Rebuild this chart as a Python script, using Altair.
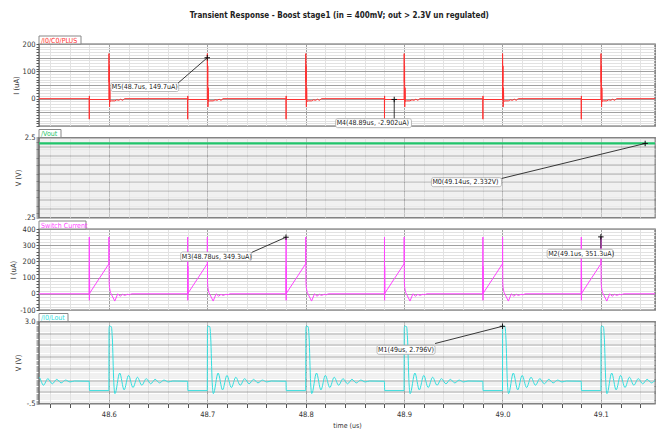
import altair as alt
import pandas as pd

FONT = "DejaVu Sans Condensed, DejaVu Sans, sans-serif"
TITLE = "Transient Response - Boost stage1 (in = 400mV; out > 2.3V un regulated)"
X0, X1 = 48.529, 49.155

# switch turn-on instants (us); each switching cycle lasts 0.1 us
cycle_on = [48.48, 48.58, 48.68, 48.78, 48.88, 48.98, 49.08]

# /I0/C0/PLUS : one cycle, offsets from turn-on (us) and current (uA)
ic_off = [0.0, 0.0001, 0.0002, 0.0003, 0.0200, 0.0201, 0.0203, 0.0205, 0.0207,
          0.0210, 0.0213, 0.0225, 0.0260, 0.0280, 0.0300, 0.0320, 0.0340, 0.0360, 0.0999]
ic_val = [0, -75, 10, -3, -3, 165, 60, 120, -30, 40, -10, -8, -8, -4, -6, -2, -6, 0, 0]

# /Vout (V)
vout_t = [48.50, 49.20]
vout_v = [2.332, 2.332]

# Switch Current : one cycle, offsets from turn-on (us) and current (uA)
sw_off = [0.0, 0.0001, 0.0002, 0.0003, 0.0005, 0.0006, 0.0200, 0.0201, 0.0203, 0.0206,
          0.0215, 0.0260, 0.0290, 0.0315, 0.0340, 0.0360, 0.0390, 0.0410, 0.0430, 0.0999]
sw_val = [0, 350, -40, 170, 0, 5, 185, 350, 70, 40, 10, -45, 0, -15, -3, -10, -3, -6, 0, 0]

# /I0/Lout : one cycle, offsets from turn-on (us) and voltage (V)
lo_off = [0.0, 0.0003, 0.0200, 0.0202, 0.0206, 0.0225, 0.0235, 0.0250, 0.0262, 0.0310,
          0.0355, 0.0400, 0.0445, 0.0490, 0.0535, 0.0580, 0.0625, 0.0670, 0.0715, 0.0760,
          0.0805, 0.0850, 0.0999]
lo_val = [0.45, 0.05, 0.05, 2.7, 2.8, 2.78, 2.3, 0.4, -0.08, 0.80, 0.08, 0.70, 0.18, 0.62,
          0.28, 0.56, 0.34, 0.53, 0.38, 0.50, 0.42, 0.46, 0.45]

# markers
m_panel = [1, 1, 2, 3, 3, 4]
m_t = [48.7, 48.89, 49.145, 48.78, 49.1, 49.0]
m_v = [149.7, -2.902, 2.332, 349.3, 351.3, 2.796]
m_text = ["M5(48.7us, 149.7uA)", "M4(48.89us, -2.902uA)", "M0(49.14us, 2.332V)",
          "M3(48.78us, 349.3uA)", "M2(49.1us, 351.3uA)", "M1(49us, 2.796V)"]
lab_t0 = [48.602, 48.8305, 48.9278, 48.673, 49.0454, 48.8725]
lab_t1 = [48.671, 48.9075, 48.999, 48.745, 49.1125, 48.9315]
lab_v = [42.6, -89.6, 1.243, 230, 247, 1.79]
lead_t = [48.670, 48.89, 48.999, 48.745, 49.1, 48.9315]
lead_v = [56, -76, 1.347, 255, 280, 2.06]


def cycles(offsets, values):
    rows = []
    for t0 in cycle_on:
        for o, v in zip(offsets, values):
            rows.append({"t": round(t0 + o, 5), "v": v})
    return pd.DataFrame(rows)


def frange(a, b, step):
    n = int(round((b - a) / step))
    return [round(a + i * step, 6) for i in range(n + 1)]


xs = alt.Scale(domain=[X0, X1], nice=False, zero=False)
x_ticks = frange(48.54, 49.14, 0.02)


def gcol(step):
    return {"condition": {"test": f"abs(datum.value/{step} - round(datum.value/{step})) < 0.001",
                          "value": "#a0a0a0"}, "value": "#e2e2e2"}


def label_expr(labels):
    expr = "''"
    for val, txt in reversed(labels):
        expr = f"abs(datum.value - ({val})) < 1e-6 ? '{txt}' : ({expr})"
    return expr


def panel(df, color, ydom, major, minor_vals, labels, ytitle, tab, tabw, height, idx,
          last=False, sw=1.0, interp="linear"):
    ys = alt.Scale(domain=ydom, nice=False, zero=False)
    if last:
        xaxis = alt.Axis(values=x_ticks, title="time (us)", grid=True, gridColor=gcol(0.1),
                         labelExpr="abs(datum.value*10 - round(datum.value*10)) < 0.001 ? format(datum.value, '.1f') : ''",
                         tickSize=4, tickColor="#555", domain=False, labelPadding=3,
                         labelFontSize=7.5, labelColor="#333", titleFontSize=7,
                         titleFontWeight="normal", titlePadding=3, titleColor="#333",
                         labelOverlap=False, labelFlush=False)
    else:
        xaxis = alt.Axis(values=x_ticks, title=None, grid=True, gridColor=gcol(0.1),
                         labels=False, ticks=False, domain=False)
    yaxis = alt.Axis(values=minor_vals, title=ytitle, grid=True, gridColor=gcol(major),
                     labelExpr=label_expr(labels), tickSize=3, tickColor="#555",
                     domain=False, labelFontSize=7.5, labelColor="#333", labelPadding=1,
                     titleFontSize=7.5, titleFontWeight="normal", titleColor="#333",
                     titlePadding=2, labelOverlap=False, labelFlush=False)
    X = lambda f: alt.X(f, scale=xs, axis=xaxis)
    Y = lambda f: alt.Y(f, scale=ys, axis=yaxis)
    line = alt.Chart(df).mark_line(color=color, strokeWidth=sw, clip=True,
                                   interpolate=interp).encode(x=X("t:Q"), y=Y("v:Q"))
    ann = pd.DataFrame({"p": m_panel, "t": m_t, "v": m_v, "txt": m_text, "l0": lab_t0,
                        "l1": lab_t1, "lv": lab_v, "et": lead_t, "ev": lead_v})
    ann = ann[ann.p == idx]
    lead = alt.Chart(ann).mark_rule(color="#222", strokeWidth=0.9).encode(
        x=X("t:Q"), y=Y("v:Q"), x2="et:Q", y2="ev:Q")
    mk = alt.Chart(ann).mark_point(shape="M-1,0H1M0,-1V1", size=30, filled=False,
                                   color="#111", strokeWidth=1, opacity=1).encode(
        x=X("t:Q"), y=Y("v:Q"))
    box = alt.Chart(ann).mark_rect(height=9, fill="white", stroke="#aaa", strokeWidth=0.8,
                                   cornerRadius=2).encode(
        x=X("l0:Q"), x2="l1:Q", y=Y("lv:Q"))
    txt = alt.Chart(ann).mark_text(align="left", baseline="middle", dx=1, font=FONT,
                                   fontSize=7, color="#222").encode(
        x=X("l0:Q"), y=Y("lv:Q"), text="txt:N")
    tab_bg = alt.Chart(pd.DataFrame({"s": [tab]})).mark_rect(
        fill="white", stroke="#888", strokeWidth=1).encode(
        x=alt.value(0), x2=alt.value(tabw), y=alt.value(-8), y2=alt.value(0))
    tab_tx = alt.Chart(pd.DataFrame({"s": [tab]})).mark_text(
        align="left", baseline="bottom", font=FONT, fontSize=7, color=color, dy=-0.5).encode(
        x=alt.value(2), y=alt.value(0), text="s:N")
    return alt.layer(line, lead, box, txt, mk, tab_bg, tab_tx).properties(
        width=616, height=height)


p1 = panel(cycles(ic_off, ic_val), "#ff3030", [-100, 200], 50, frange(-100, 200, 10),
           [(200, "200"), (100, "100"), (0, "0")], "I (uA)", "/I0/C0/PLUS", 42, 82, 1)
p2 = panel(pd.DataFrame({"t": vout_t, "v": vout_v}), "#1fc46a", [0.25, 2.5], 0.25,
           frange(0.25, 2.5, 0.05), [(2.5, "2.5"), (0.25, ".25")], "V (V)", "/Vout", 22,
           80, 2, sw=2.2)
p3 = panel(cycles(sw_off, sw_val), "#ff44ff", [-100, 400], 100, frange(-100, 400, 20),
           [(400, "400"), (300, "300"), (200, "200"), (100, "100"), (0, "0"), (-100, "-100")],
           "I (uA)", "Switch Current", 47, 81, 3)
p4 = panel(cycles(lo_off, lo_val), "#33dede", [-0.5, 3.0], 0.5, frange(-0.5, 3.0, 0.1),
           [(3.0, "3.0"), (-0.5, "-.5")], "V (V)", "/I0/Lout", 29, 82, 4, last=True,
           interp="monotone")

chart = alt.vconcat(p1, p2, p3, p4, spacing=11.5, bounds="flush").properties(
    title=alt.TitleParams(TITLE, font=FONT, fontSize=8, fontWeight="bold", color="#222",
                          anchor="middle", offset=14.5, dx=7),
    padding={"left": 8, "top": 12, "right": 10, "bottom": 1},
    background="white",
).configure_view(stroke="#666", strokeWidth=1.4).configure_axis(
    labelFont=FONT, titleFont=FONT, labelOverlap=False, labelFlush=False)

chart.save("out.html", embed_options={"renderer": "svg", "actions": False})
